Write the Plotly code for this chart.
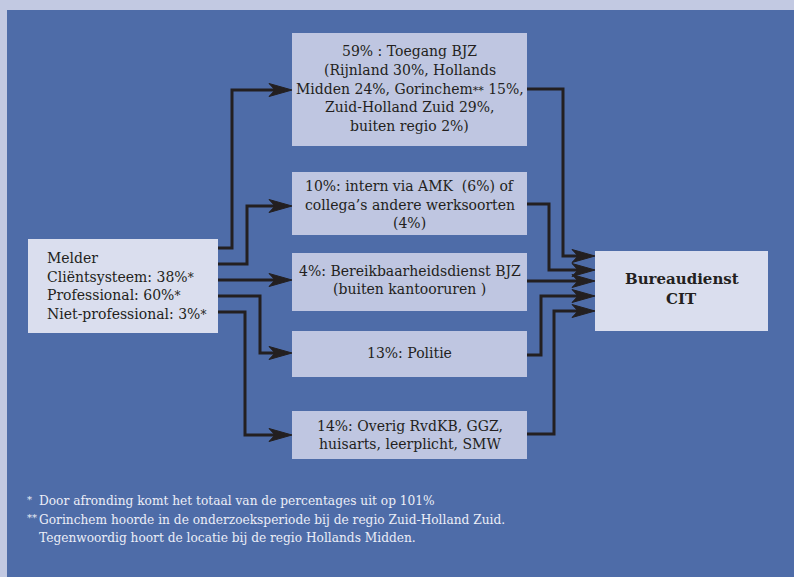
import plotly.graph_objects as go

# ---------------- data (texts) ----------------
SUP1 = '<span style="font-size:12px">*</span>'
SUP2 = '<span style="font-size:11px">**</span>'
melder_lines = [
    "Melder",
    "Cliëntsysteem: 38%" + SUP1,
    "Professional: 60%" + SUP1,
    "Niet-professional: 3%" + SUP1,
]
target_texts = [
    ["59% : Toegang BJZ", "(Rijnland 30%, Hollands",
     "Midden 24%, Gorinchem" + SUP2 + " 15%,", "Zuid-Holland Zuid 29%,",
     "buiten regio 2%)"],
    ["10%: intern via AMK  (6%) of", "collega’s andere werksoorten", "(4%)"],
    ["4%: Bereikbaarheidsdienst BJZ", "(buiten kantooruren )"],
    ["13%: Politie"],
    ["14%: Overig RvdKB, GGZ,", "huisarts, leerplicht, SMW"],
]
cit_lines = ["Bureaudienst", "CIT"]
footnote_marks = ["*", "**", ""]
footnote_lines = [
    "Door afronding komt het totaal van de percentages uit op 101%",
    "Gorinchem hoorde in de onderzoeksperiode bij de regio Zuid-Holland Zuid.",
    "Tegenwoordig hoort de locatie bij de regio Hollands Midden.",
]

# ---------------- layout spec (positions / styles) ----------------
W, H = 794, 577
OUTER = "#c2c9e2"
PANEL = "#4e6ca8"
BOX = "#bfc6e1"
BOX_LIGHT = "#dadeee"
INK = "#231f20"
FONT = "DejaVu Serif"
FS = 14

panel_rect = (7, 10, W, H)
melder_box = (28, 239, 218, 333)
melder_text_x = 45
melder_text_y = [258, 276.5, 295, 313.5]

target_boxes = [
    (292, 33, 527, 146),
    (292, 172, 527, 235),
    (292, 253, 527, 311),
    (292, 331, 527, 377),
    (292, 411, 527, 459),
]
target_text_y = [
    [51, 70, 88.5, 107, 126],
    [186, 205, 223],
    [271, 289],
    [353],
    [426, 444],
]
cit_box = (595, 251, 768, 331)
cit_text_y = [279, 299]

# routes: Melder -> targets
routes_in = [
    [(218, 248), (232, 248), (232, 90), (292, 90)],
    [(218, 264), (247, 264), (247, 206), (292, 206)],
    [(218, 280), (292, 280)],
    [(218, 296), (260, 296), (260, 353), (292, 353)],
    [(218, 312), (245, 312), (245, 435), (292, 435)],
]
# routes: targets -> CIT
routes_out = [
    [(527, 89), (563, 89), (563, 256), (595, 256)],
    [(527, 204), (549, 204), (549, 270), (595, 270)],
    [(527, 281), (595, 281)],
    [(527, 355), (541, 355), (541, 296), (595, 296)],
    [(527, 434), (554, 434), (554, 311), (595, 311)],
]

foot_mark_x = 25
foot_text_x = 37
foot_y = [501, 519.5, 538]

ARROW_LEN = 23
ARROW_HALF = 6.5
ARROW_NOTCH = 17

fig = go.Figure()
shapes = []
annotations = []

shapes.append(dict(type="rect", xref="x", yref="y", x0=panel_rect[0], y0=panel_rect[1],
                   x1=panel_rect[2], y1=panel_rect[3], fillcolor=PANEL, line=dict(width=0),
                   layer="below"))


def box(b, color):
    shapes.append(dict(type="rect", xref="x", yref="y", x0=b[0], y0=b[1], x1=b[2], y1=b[3],
                       fillcolor=color, line=dict(width=0), layer="below"))


box(melder_box, BOX_LIGHT)
box(cit_box, BOX_LIGHT)
for b in target_boxes:
    box(b, BOX)


def route(pts):
    tip = pts[-1]
    pts2 = list(pts[:-1]) + [(tip[0] - ARROW_NOTCH + 2, tip[1])]
    path = "M " + " L ".join(f"{x},{y}" for x, y in pts2)
    shapes.append(dict(type="path", xref="x", yref="y", path=path,
                       line=dict(color=INK, width=3), layer="above"))
    tx, ty = tip
    head = (f"M {tx},{ty} L {tx-ARROW_LEN},{ty-ARROW_HALF} L {tx-ARROW_NOTCH},{ty} "
            f"L {tx-ARROW_LEN},{ty+ARROW_HALF} Z")
    shapes.append(dict(type="path", xref="x", yref="y", path=head, fillcolor=INK,
                       line=dict(color=INK, width=1), layer="above"))


for r in routes_in + routes_out:
    route(r)


def text(x, y, s, anchor="center", size=FS, color=INK, bold=False):
    annotations.append(dict(x=x, y=y, xref="x", yref="y", text=(f"<b>{s}</b>" if bold else s),
                            showarrow=False, xanchor=anchor, yanchor="middle",
                            font=dict(family=FONT, size=size, color=color)))


for s, y in zip(melder_lines, melder_text_y):
    text(melder_text_x, y, s, anchor="left")

for b, lines, ys in zip(target_boxes, target_texts, target_text_y):
    cx = (b[0] + b[2]) / 2
    for s, y in zip(lines, ys):
        text(cx, y, s)

cx = (cit_box[0] + cit_box[2]) / 2
for s, y in zip(cit_lines, cit_text_y):
    text(cx, y, s, size=15, bold=True)

FOOT = "#eceef7"
for m, s, y in zip(footnote_marks, footnote_lines, foot_y):
    if m:
        text(foot_mark_x, y - 2, m, anchor="left", size=10, color=FOOT)
    text(foot_text_x, y, s, anchor="left", size=12.2, color=FOOT)

fig.update_layout(
    width=W, height=H,
    margin=dict(l=0, r=0, t=0, b=0),
    paper_bgcolor=OUTER, plot_bgcolor=OUTER,
    xaxis=dict(range=[0, W], visible=False, fixedrange=True),
    yaxis=dict(range=[H, 0], visible=False, fixedrange=True),
    shapes=shapes, annotations=annotations, showlegend=False,
)

fig.write_html("out.html", config={"displayModeBar": False},
               post_script="document.body.style.margin='0';")
